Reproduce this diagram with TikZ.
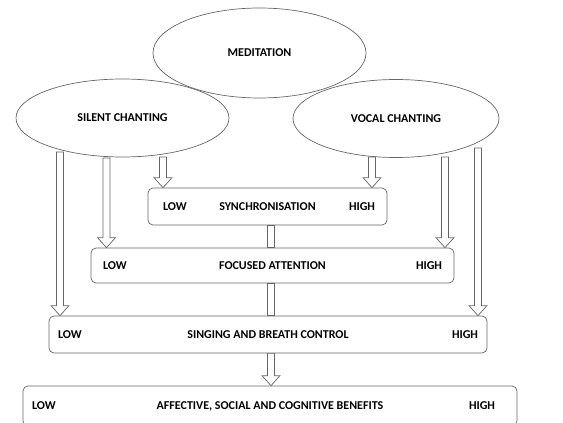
\documentclass[tikz,border=0pt]{standalone}
\usepackage{fontspec}
\setmainfont{Carlito}
\usetikzlibrary{
    calc,
    shapes.geometric
}
\tikzset{
  every path/.style={
    black!60,
    line width=0.7pt
  },
  every node/.style={
    inner sep=1.5pt,
    text=black,
    font=\bfseries\fontsize{12}{14}\selectfont
  },
  bubble/.style={
    draw,
    ellipse
  },
  levelbox/.style={
    draw,
    rounded corners=5pt,
    fill=white
  },
  hollow/.style={
    draw=black!60,
    fill=white
  }
}
% 白抜きの矢印
\newcommand{\hollowarrow}[2]{%
  \draw[hollow] let \p1=(#1), \p2=(#1 |- #2) in
    (\x1-3.5pt,\y1) -- (\x1-3.5pt,\y2+10pt) -- (\x1-9pt,\y2+10pt) -- (\x2,\y2)
    -- (\x1+9pt,\y2+10pt) -- (\x1+3.5pt,\y2+10pt) -- (\x1+3.5pt,\y1) -- cycle;}
\newcommand{\hollowshaft}[2]{%
  \draw[hollow] let \p1=(#1), \p2=(#1 |- #2) in
    (\x1-3.5pt,\y1) rectangle (\x1+3.5pt,\y2);}

\begin{document}
\begin{tikzpicture}[x=1pt,y=-1pt]
    \useasboundingbox (0,0) rectangle (563,423);

    % 楕円
    \node[bubble, minimum width=213pt, minimum height=90pt] (med) at (259.5,53) {MEDITATION};
    \node[bubble, minimum width=213pt, minimum height=78pt] (silent) at (122.5,118) {SILENT CHANTING};
    \node[bubble, minimum width=206pt, minimum height=78pt] (vocal) at (396,118.5) {VOCAL CHANTING};

    % 段階の箱
    \node[levelbox, minimum width=239pt, minimum height=37pt] (sync) at (267.5,206.5) {SYNCHRONISATION};
    \node[levelbox, minimum width=363pt, minimum height=35pt] (focus) at (272.5,265.5) {FOCUSED ATTENTION};
    \node[levelbox, minimum width=438pt, minimum height=37pt] (sing) at (268,334.5) {SINGING AND BREATH CONTROL};
    \node[levelbox, minimum width=494pt, minimum height=40pt] (benefit) at (270,406) {AFFECTIVE, SOCIAL AND COGNITIVE BENEFITS};

    % LOW / HIGH
    \node[anchor=west, xshift=13.5pt] (syncl) at (sync.west) {LOW};
    \node[anchor=east, xshift=-10.5pt] (synch) at (sync.east) {HIGH};
    \node[anchor=west, xshift=10.5pt] (focusl) at (focus.west) {LOW};
    \node[anchor=east, xshift=-10.5pt] (focush) at (focus.east) {HIGH};
    \node[anchor=west, xshift=7.5pt] (singl) at (sing.west) {LOW};
    \node[anchor=east, xshift=-7.5pt] (singh) at (sing.east) {HIGH};
    \node[anchor=west, xshift=7.5pt] (benefitl) at (benefit.west) {LOW};
    \node[anchor=east, xshift=-20.5pt] (benefith) at (benefit.east) {HIGH};

    % 矢印の始点
    \coordinate (s1) at (163,157);
    \coordinate (s2) at (106.5,158);
    \coordinate (s3) at (60,152);
    \coordinate (v1) at (372,157);
    \coordinate (v2) at (445,157);
    \coordinate (v3) at (478,148);
    \coordinate (mid) at (271,0);
    \coordinate (m1) at (sync.south -| mid);
    \coordinate (m2) at (focus.south -| mid);
    \coordinate (m3) at (sing.south -| mid);

    % 矢印
    \hollowarrow{s1}{sync.north}
    \hollowarrow{s2}{focus.north}
    \hollowarrow{s3}{sing.north}
    \hollowarrow{v1}{sync.north}
    \hollowarrow{v2}{focus.north}
    \hollowarrow{v3}{sing.north}
    \hollowshaft{m1}{focus.north}
    \hollowshaft{m2}{sing.north}
    \hollowarrow{m3}{benefit.north}
\end{tikzpicture}
\end{document}
